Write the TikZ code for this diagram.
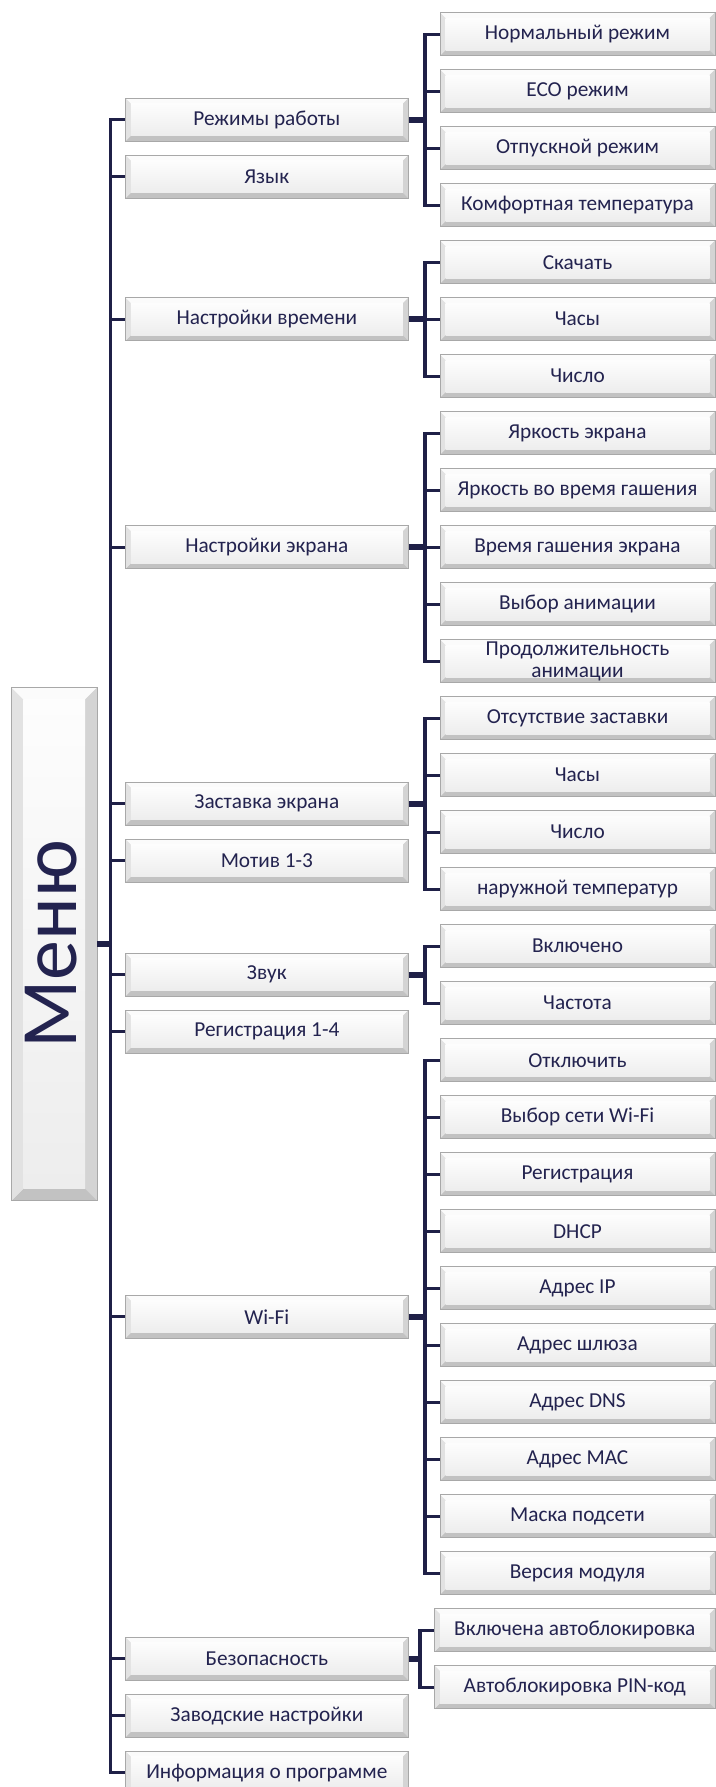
\documentclass[tikz,border=0pt]{standalone}
\usepackage{fontspec}
\setmainfont{Carlito}
\usetikzlibrary{calc}
\definecolor{navy}{HTML}{23234F}
\definecolor{lnc}{HTML}{1F2047}
\definecolor{bedge}{HTML}{A8A8A8}
\definecolor{bvtop}{HTML}{FBFBFB}
\definecolor{bvleft}{HTML}{E2E2E2}
\definecolor{bvright}{HTML}{D4D4D4}
\definecolor{bvbot}{HTML}{C2C2C2}
\definecolor{facetop}{HTML}{FDFDFD}
\definecolor{facebot}{HTML}{EDEDED}
\tikzset{
  bevelbox/.style={draw=bedge, line width=0.8pt, fill=facebot, inner sep=0pt,
    text=navy, align=center, font=\fontsize{21.3}{22}\selectfont,
    path picture={
      \path (path picture bounding box.north west) coordinate (pA)
            (path picture bounding box.north east) coordinate (pB)
            (path picture bounding box.south east) coordinate (pC)
            (path picture bounding box.south west) coordinate (pD);
      \path ($(pA)+(#1,-#1)$) coordinate (pa)
            ($(pB)+(-#1,-#1)$) coordinate (pb)
            ($(pC)+(-#1,#1)$) coordinate (pc)
            ($(pD)+(#1,#1)$) coordinate (pd);
      \fill[bvtop] (pA)--(pB)--(pb)--(pa)--cycle;
      \fill[bvright] (pB)--(pC)--(pc)--(pb)--cycle;
      \fill[bvbot] (pC)--(pD)--(pd)--(pc)--cycle;
      \fill[bvleft] (pD)--(pA)--(pa)--(pd)--cycle;
      \shade[top color=facetop, bottom color=facebot] (pa) rectangle (pc);
    }},
  lone/.style={bevelbox=5.5pt, minimum width=283pt, minimum height=43pt},
  ltwo/.style={bevelbox=5.5pt, minimum width=275pt, minimum height=43pt},
  lsec/.style={bevelbox=5.5pt, minimum width=280.5pt, minimum height=43pt},
  conn/.style={draw=lnc, line width=3.2pt, line join=miter},
  pconn/.style={draw=lnc, line width=6pt}
}
\newcommand{\Lone}[3]{\node[lone] (#1) at (266.85,{34.2+57*#2}) {#3};}
\newcommand{\Ltwo}[3]{\node[ltwo] (#1) at (577.5,{34.2+57*#2}) {#3};}
\newcommand{\Lsec}[3]{\node[lsec] (#1) at (574.75,{34.2+57*#2}) {#3};}
\begin{document}
\begin{tikzpicture}[x=1pt,y=-1pt]
\useasboundingbox (0,0) rectangle (715,1787);
\fill[white] (0,0) rectangle (715,1787);

\coordinate (trunk) at (110.6,0);
\coordinate (bx) at (425,0);
\coordinate (bxs) at (420,0);

% menu
\node[bevelbox=12pt, minimum width=85.6pt, minimum height=513pt] (menu) at (54.2,944.2) {};
\node[rotate=90, text=navy, font=\fontsize{80}{90}\selectfont, inner sep=0pt] (menutext) at (51,944.2) {Меню};

% level 1
\Lone{a}{1.5}{Режимы работы}
\Lone{b}{2.5}{Язык}
\Lone{c}{5}{Настройки времени}
\Lone{d}{9}{Настройки экрана}
\Lone{e}{13.5}{Заставка экрана}
\Lone{f}{14.5}{Мотив 1-3}
\Lone{g}{16.5}{Звук}
\Lone{h}{17.5}{Регистрация 1-4}
\Lone{i}{22.5}{Wi-Fi}
\Lone{j}{28.5}{Безопасность}
\Lone{k}{29.5}{Заводские настройки}
\Lone{l}{30.5}{Информация о программе}

% level 2
\Ltwo{a0}{0}{Нормальный режим}
\Ltwo{a1}{1}{ECO режим}
\Ltwo{a2}{2}{Отпускной режим}
\Ltwo{a3}{3}{Комфортная температура}
\Ltwo{c0}{4}{Скачать}
\Ltwo{c1}{5}{Часы}
\Ltwo{c2}{6}{Число}
\Ltwo{d0}{7}{Яркость экрана}
\Ltwo{d1}{8}{Яркость во время гашения}
\Ltwo{d2}{9}{Время гашения экрана}
\Ltwo{d3}{10}{Выбор анимации}
\Ltwo{d4}{11}{Продолжительность\\анимации}
\Ltwo{e0}{12}{Отсутствие заставки}
\Ltwo{e1}{13}{Часы}
\Ltwo{e2}{14}{Число}
\Ltwo{e3}{15}{наружной температур}
\Ltwo{g0}{16}{Включено}
\Ltwo{g1}{17}{Частота}
\Ltwo{i0}{18}{Отключить}
\Ltwo{i1}{19}{Выбор сети Wi-Fi}
\Ltwo{i2}{20}{Регистрация}
\Ltwo{i3}{21}{DHCP}
\Ltwo{i4}{22}{Адрес IP}
\Ltwo{i5}{23}{Адрес шлюза}
\Ltwo{i6}{24}{Адрес DNS}
\Ltwo{i7}{25}{Адрес MAC}
\Ltwo{i8}{26}{Маска подсети}
\Ltwo{i9}{27}{Версия модуля}
\Lsec{j0}{28}{Включена автоблокировка}
\Lsec{j1}{29}{Автоблокировка PIN-код}

% trunk
\draw[conn] (a.west) -- (a.west -| trunk) -- (l.west -| trunk) -- (l.west);
\foreach \n in {b,c,d,e,f,g,h,i,j,k}
  \draw[conn] (\n.west) -- (\n.west -| trunk);
\draw[pconn] (menu.east) -- (menu.east -| trunk);

% brackets
\draw[conn] (a0.west) -- (a0.west -| bx) -- (a3.west -| bx) -- (a3.west);
\foreach \n in {a1,a2} \draw[conn] (\n.west) -- (\n.west -| bx);
\draw[pconn] (a.east) -- (a.east -| bx);

\draw[conn] (c0.west) -- (c0.west -| bx) -- (c2.west -| bx) -- (c2.west);
\draw[conn] (c1.west) -- (c1.west -| bx);
\draw[pconn] (c.east) -- (c.east -| bx);

\draw[conn] (d0.west) -- (d0.west -| bx) -- (d4.west -| bx) -- (d4.west);
\foreach \n in {d1,d2,d3} \draw[conn] (\n.west) -- (\n.west -| bx);
\draw[pconn] (d.east) -- (d.east -| bx);

\draw[conn] (e0.west) -- (e0.west -| bx) -- (e3.west -| bx) -- (e3.west);
\foreach \n in {e1,e2} \draw[conn] (\n.west) -- (\n.west -| bx);
\draw[pconn] (e.east) -- (e.east -| bx);

\draw[conn] (g0.west) -- (g0.west -| bx) -- (g1.west -| bx) -- (g1.west);
\draw[pconn] (g.east) -- (g.east -| bx);

\draw[conn] (i0.west) -- (i0.west -| bx) -- (i9.west -| bx) -- (i9.west);
\foreach \n in {i1,i2,i3,i4,i5,i6,i7,i8} \draw[conn] (\n.west) -- (\n.west -| bx);
\draw[pconn] (i.east) -- (i.east -| bx);

\draw[conn] (j0.west) -- (j0.west -| bxs) -- (j1.west -| bxs) -- (j1.west);
\draw[pconn] (j.east) -- (j.east -| bxs);
\end{tikzpicture}
\end{document}
